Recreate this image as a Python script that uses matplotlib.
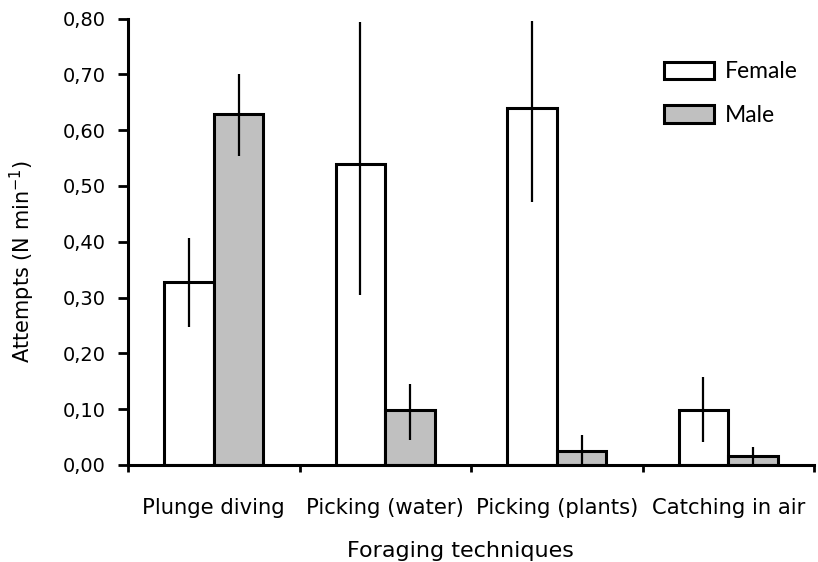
import matplotlib.pyplot as plt
import numpy as np

categories = ["Plunge diving", "Picking (water)", "Picking (plants)", "Catching in air"]
female = [0.327, 0.540, 0.640, 0.099]
female_err_low = [0.079, 0.235, 0.168, 0.058]
female_err_high = [0.079, 0.254, 0.155, 0.058]
male = [0.628, 0.098, 0.025, 0.016]
male_err_low = [0.074, 0.054, 0.025, 0.016]
male_err_high = [0.073, 0.048, 0.028, 0.016]
yticks = [0.0, 0.1, 0.2, 0.3, 0.4, 0.5, 0.6, 0.7, 0.8]

plt.rcParams['font.family'] = ['DejaVu Sans']

fig = plt.figure(figsize=(8.18, 5.62), dpi=100)
ax = fig.add_axes([128 / 818, 97 / 562, 686 / 818, 446.5 / 562])

x = np.arange(len(categories))
w = 0.289

ax.bar(x - w / 2, female, width=w, color='white', edgecolor='black',
       linewidth=2.2, label='Female', zorder=2)
ax.bar(x + w / 2, male, width=w, color='#c0c0c0', edgecolor='black',
       linewidth=2.2, label='Male', zorder=2)

ax.errorbar(x - w / 2, female, yerr=[female_err_low, female_err_high],
            fmt='none', ecolor='black', elinewidth=1.6, capsize=0, zorder=3)
ax.errorbar(x + w / 2, male, yerr=[male_err_low, male_err_high],
            fmt='none', ecolor='black', elinewidth=1.6, capsize=0, zorder=3)

ax.set_xlim(-0.5, len(categories) - 0.5)
ax.set_ylim(0, 0.8)
ax.set_yticks(yticks)
ax.set_yticklabels([f"{v:.2f}".replace('.', ',') for v in yticks], fontsize=14)
ax.set_xticks(x)
ax.set_xticklabels(categories, fontsize=15.2)
ax.set_xticks(np.arange(-0.5, len(categories)), minor=True)
ax.tick_params(axis='x', which='major', length=0, pad=24)
ax.tick_params(axis='x', which='minor', length=5, width=2, direction='out')
ax.tick_params(axis='y', length=7, width=2, direction='out', pad=9)

for side in ['top', 'right']:
    ax.spines[side].set_visible(False)
for side in ['left', 'bottom']:
    ax.spines[side].set_linewidth(2.2)

ax.set_ylabel("Attempts (N min$^{-1}$)", fontsize=15)
ax.yaxis.set_label_coords(-0.133, 0.455)
ax.set_xlabel("Foraging techniques", fontsize=16)
ax.xaxis.set_label_coords(0.484, -0.17)

ax.legend(loc='upper left', bbox_to_anchor=(0.751, 0.95), frameon=False,
          prop={'family': 'Lato', 'size': 16.5}, handlelength=2.18,
          handleheight=0.83, labelspacing=1.0, handletextpad=0.5)

fig.savefig("out.png", dpi=100)
